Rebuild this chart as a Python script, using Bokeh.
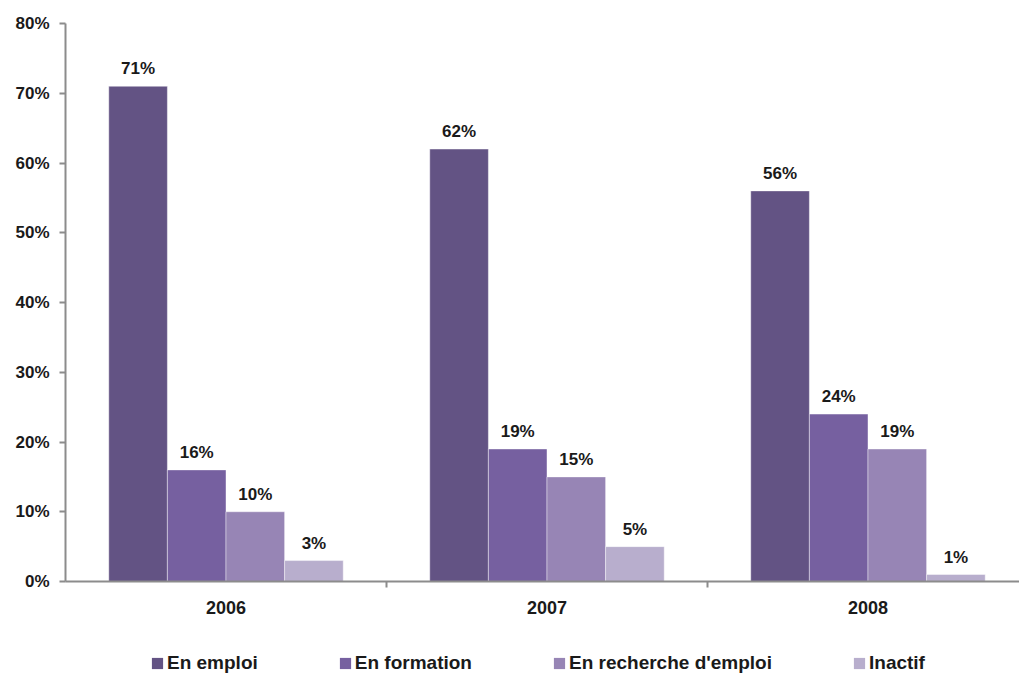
from bokeh.plotting import figure
from bokeh.layouts import column
from bokeh.models import ColumnDataSource, FixedTicker, Range1d, Legend, LegendItem
from bokeh.core.properties import value
from bokeh.embed import file_html
from bokeh.resources import INLINE

years = ["2006", "2007", "2008"]
series = ["En emploi", "En formation", "En recherche d'emploi", "Inactif"]
en_emploi = [71, 62, 56]
en_formation = [16, 19, 24]
en_recherche = [10, 15, 19]
inactif = [3, 5, 1]
colors = ["#635384", "#7660A0", "#9785B5", "#B8AECD"]
y_ticks = [0, 10, 20, 30, 40, 50, 60, 70, 80]

values = [en_emploi, en_formation, en_recherche, inactif]
bar_w = 0.1826
offsets = [-1.5 * bar_w, -0.5 * bar_w, 0.5 * bar_w, 1.5 * bar_w]
centers = [0.5, 1.5, 2.5]

FONT = "Liberation Sans"
TXT = "#1a1a1a"
AX = "#8c8c8c"

p = figure(width=1019, height=632, output_backend="svg", toolbar_location=None,
           x_range=Range1d(0, 2.972), y_range=Range1d(0, 80),
           min_border_left=65, min_border_top=23, min_border_bottom=51,
           min_border_right=0)
p.outline_line_color = None
p.xgrid.grid_line_color = None
p.ygrid.grid_line_color = None

for i, (name, vals) in enumerate(zip(series, values)):
    xs = [c + offsets[i] for c in centers]
    src = ColumnDataSource(dict(x=xs, top=vals, lab=[f"{v}%" for v in vals]))
    p.vbar(x="x", top="top", width=bar_w, source=src, fill_color=colors[i],
           line_color="white", line_width=0.6, line_alpha=0.7)
    p.text(x="x", y="top", text="lab", source=src, text_align="center",
           text_baseline="bottom", y_offset=-8, text_font=value(FONT),
           text_font_style="bold", text_font_size="17px", text_color=TXT)

# y axis
p.yaxis.ticker = FixedTicker(ticks=y_ticks)
p.yaxis.major_label_overrides = {t: f"{t}%" for t in y_ticks}
p.yaxis.minor_tick_line_color = None
p.yaxis.axis_line_color = AX
p.yaxis.axis_line_width = 2
p.yaxis.major_tick_line_color = AX
p.yaxis.major_tick_line_width = 2
p.yaxis.major_tick_out = 6
p.yaxis.major_tick_in = 0
p.yaxis.major_label_text_font = FONT
p.yaxis.major_label_text_font_style = "bold"
p.yaxis.major_label_text_font_size = "17px"
p.yaxis.major_label_text_color = TXT
p.yaxis.major_label_standoff = 10

# x axis
p.xaxis.ticker = FixedTicker(ticks=centers, minor_ticks=[1, 2])
p.xaxis.major_label_overrides = {c: y for c, y in zip(centers, years)}
p.xaxis.major_tick_line_color = None
p.xaxis.major_tick_out = 0
p.xaxis.major_tick_in = 0
p.xaxis.minor_tick_line_color = AX
p.xaxis.minor_tick_line_width = 2
p.xaxis.minor_tick_out = 6
p.xaxis.minor_tick_in = 0
p.xaxis.axis_line_color = AX
p.xaxis.axis_line_width = 2
p.xaxis.major_label_text_font = FONT
p.xaxis.major_label_text_font_style = "bold"
p.xaxis.major_label_text_font_size = "18px"
p.xaxis.major_label_text_color = TXT
p.xaxis.major_label_standoff = 13

# legend strip
lg = figure(width=1019, height=43, output_backend="svg", toolbar_location=None,
            x_range=Range1d(0, 1), y_range=Range1d(0, 1),
            x_axis_location=None, y_axis_location=None,
            min_border_left=65, min_border_right=0, min_border_top=0,
            min_border_bottom=0)
lg.xgrid.grid_line_color = None
lg.ygrid.grid_line_color = None
lg.outline_line_color = None
items = []
for name, col in zip(series, colors):
    r = lg.vbar(x=[0.5], top=[0], width=0.001, fill_color=col, line_color=None)
    items.append(LegendItem(label=name, renderers=[r]))
legend = Legend(items=items, orientation="horizontal", location=(85, 1),
                spacing=80, glyph_width=14, glyph_height=14,
                label_text_font=FONT, label_text_font_style="bold",
                label_text_font_size="19px", label_text_color=TXT,
                label_standoff=3, border_line_color=None,
                background_fill_alpha=0, margin=0, padding=0)
lg.add_layout(legend, "center")

layout = column(p, lg, spacing=0)
open("out.html", "w").write(file_html(layout, INLINE))
